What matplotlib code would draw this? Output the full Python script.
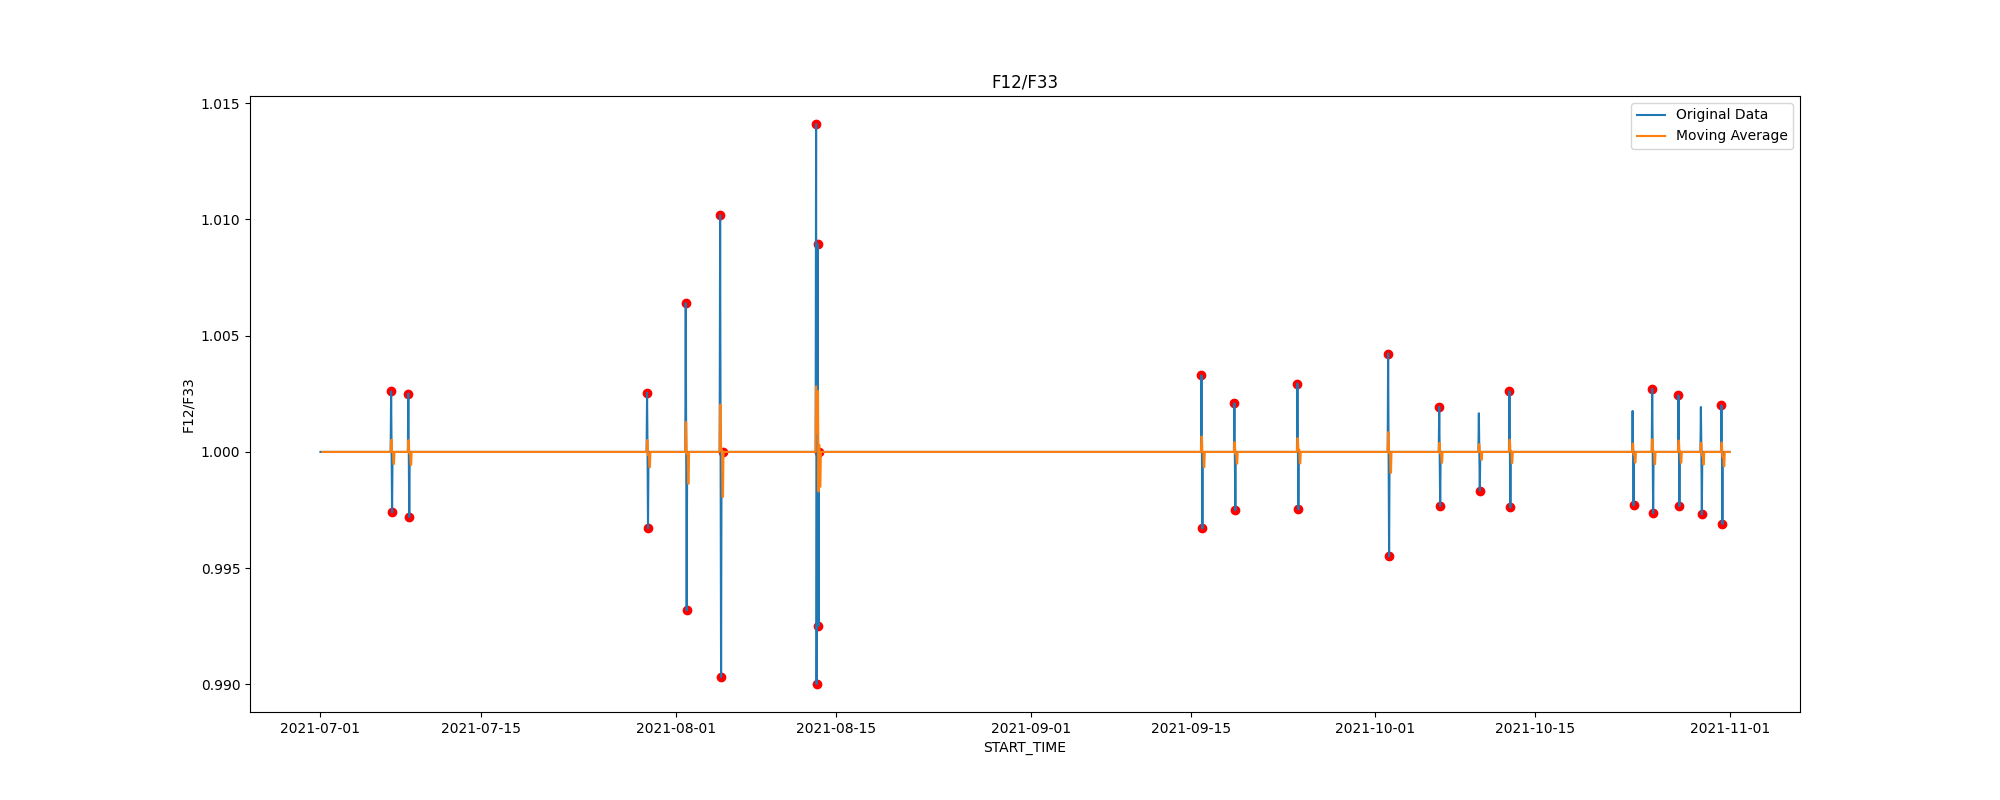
import matplotlib
matplotlib.use("Agg")
import matplotlib.pyplot as plt
import pandas as pd

# ---- data ----
start_time = "2021-07-01 00:00"
end_time = "2021-10-31 23:00"
baseline_value = 1.0
ma_window = 5

event_times = [
    "2021-07-07 04:00", "2021-07-07 06:00",
    "2021-07-08 16:00", "2021-07-08 18:00",
    "2021-07-29 12:00", "2021-07-29 14:00",
    "2021-08-01 21:00", "2021-08-01 23:00",
    "2021-08-04 21:00", "2021-08-04 23:00", "2021-08-05 04:00",
    "2021-08-13 06:00", "2021-08-13 07:00", "2021-08-13 09:00", "2021-08-13 11:00", "2021-08-13 12:00",
    "2021-09-15 21:00", "2021-09-15 23:00",
    "2021-09-18 18:00", "2021-09-18 20:00",
    "2021-09-24 06:00", "2021-09-24 08:00",
    "2021-10-02 04:00", "2021-10-02 06:00",
    "2021-10-06 15:00", "2021-10-06 17:00",
    "2021-10-10 02:00", "2021-10-10 04:00",
    "2021-10-12 18:00", "2021-10-12 20:00",
    "2021-10-23 12:00", "2021-10-23 14:00",
    "2021-10-25 05:00", "2021-10-25 07:00",
    "2021-10-27 12:00", "2021-10-27 14:00",
    "2021-10-29 11:00", "2021-10-29 13:00",
    "2021-10-31 06:00", "2021-10-31 08:00",
]
event_values = [
    1.00260, 0.99741,
    1.00251, 0.99720,
    1.00254, 0.99673,
    1.00640, 0.99319,
    1.01018, 0.99032, 1.00000,
    1.01410, 0.99002, 1.00893, 0.99252, 1.00000,
    1.00329, 0.99671,
    1.00209, 0.99749,
    1.00294, 0.99753,
    1.00423, 0.99551,
    1.00194, 0.99767,
    1.00166, 0.99834,
    1.00260, 0.99761,
    1.00176, 0.99771,
    1.00271, 0.99737,
    1.00243, 0.99767,
    1.00193, 0.99731,
    1.00200, 0.99690,
]
event_flagged = [
    True, True,
    True, True,
    True, True,
    True, True,
    True, True, True,
    True, True, True, True, True,
    True, True,
    True, True,
    True, True,
    True, True,
    True, True,
    False, True,
    True, True,
    False, True,
    True, True,
    True, True,
    False, True,
    True, True,
]

# ---- build series ----
index = pd.date_range(start_time, end_time, freq="h")
series = pd.Series(baseline_value, index=index, dtype=float)
ev_idx = pd.to_datetime(event_times)
series.loc[ev_idx] = event_values
moving_avg = series.rolling(ma_window).mean()

anom_times = [t for t, f in zip(ev_idx, event_flagged) if f]
anom_values = series.loc[anom_times]

# ---- plot ----
fig, ax = plt.subplots(figsize=(20, 8), dpi=100)
ax.plot(series.index, series.values, label="Original Data")
ax.plot(moving_avg.index, moving_avg.values, label="Moving Average")
ax.scatter(anom_values.index, anom_values.values, color="red")
ax.set_title("F12/F33")
ax.set_xlabel("START_TIME")
ax.set_ylabel("F12/F33")
ax.legend(loc="upper right")

fig.savefig("out.png", dpi=100)
